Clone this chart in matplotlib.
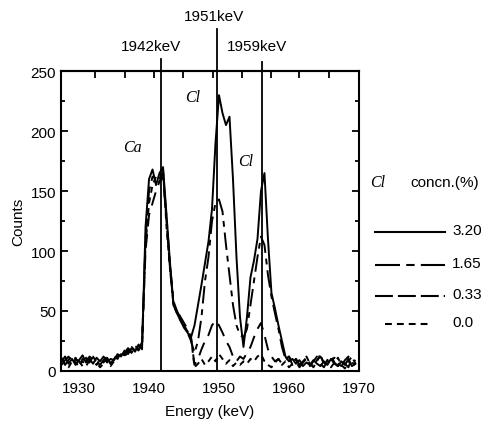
import numpy as np
import matplotlib
matplotlib.use('Agg')
import matplotlib.pyplot as plt
from matplotlib.lines import Line2D

plt.rcParams['font.family'] = ['Liberation Sans', 'DejaVu Sans']

# energy grid (keV), 0.5 keV channels
energy = np.arange(1927.5, 1969.75, 0.5)

# counts for each Cl concentration
c320 = [8, 12, 6, 10, 5, 9, 13, 7, 10, 6,
        11, 8, 12, 7, 10, 9, 14, 12, 17, 14,
        19, 16, 22, 18, 120, 160, 168, 155, 165, 170,
        130, 90, 55, 48, 42, 36, 32, 28, 38, 55,
        72, 90, 108, 135, 190, 230, 215, 205, 212, 160,
        95, 45, 20, 45, 78, 92, 110, 150, 165, 110,
        65, 52, 38, 25, 12, 8, 10, 6, 9, 4,
        7, 5, 9, 6, 4, 8, 5, 10, 6, 4,
        8, 5, 10, 4, 6]
c165 = [11, 5, 9, 12, 7, 4, 10, 8, 12, 9,
        5, 10, 7, 11, 6, 12, 10, 15, 13, 18,
        15, 20, 17, 22, 110, 150, 162, 160, 158, 165,
        128, 88, 58, 50, 44, 38, 32, 25, 15, 25,
        45, 75, 95, 125, 140, 143, 133, 105, 80, 55,
        38, 30, 28, 35, 55, 75, 95, 112, 105, 80,
        62, 48, 35, 20, 10, 12, 7, 10, 5, 8,
        11, 6, 4, 9, 12, 7, 5, 9, 11, 6,
        4, 9, 12, 7, 5]
c033 = [5, 9, 12, 6, 10, 8, 4, 11, 7, 12,
        8, 5, 9, 12, 6, 10, 13, 10, 15, 19,
        16, 21, 18, 24, 100, 130, 140, 150, 158, 162,
        125, 85, 55, 50, 45, 40, 35, 28, 5, 10,
        18, 25, 30, 38, 42, 38, 32, 25, 20, 12,
        8, 12, 10, 15, 20, 28, 35, 40, 30, 18,
        12, 8, 10, 6, 9, 12, 5, 8, 3, 7,
        10, 4, 8, 12, 6, 3, 9, 13, 7, 4,
        10, 6, 3, 11, 8]
c000 = [10, 6, 3, 8, 11, 5, 8, 4, 9, 12,
        7, 3, 6, 10, 4, 8, 11, 14, 12, 16,
        20, 17, 21, 19, 105, 140, 155, 162, 160, 168,
        120, 85, 55, 48, 42, 38, 33, 28, 3, 6,
        10, 5, 8, 12, 8, 14, 10, 6, 9, 4,
        7, 5, 8, 6, 10, 8, 12, 14, 8, 5,
        3, 7, 10, 5, 8, 3, 6, 10, 4, 7,
        12, 6, 3, 8, 14, 5, 9, 3, 7, 11,
        5, 2, 8, 12, 6]

series = [c320, c165, c033, c000]
conc_labels = ['3.20', '1.65', '0.33', '0.0']
dash_styles = ['-', (0, (9, 3, 3, 3)), (0, (7, 4)), (0, (3, 2.5))]
legend_dashes = ['-', (0, (12, 3, 4, 3)), (0, (8.6, 2.4)), (0, (3.3, 2.4))]

# reference lines and their labels
line_pos = [1941.7, 1949.7, 1956.2]
line_top = [260, 285, 258]
line_text = ['1942keV', '1951keV', '1959keV']
text_x = [1940.3, 1949.3, 1955.4]
text_y = [265, 290, 265]

fig = plt.figure(figsize=(4.87, 4.27), dpi=100)
ax = fig.add_axes([0.125, 0.129, 0.612, 0.702])

for vals, ls in zip(series, dash_styles):
    ax.plot(energy, vals, color='black', lw=1.4, linestyle=ls)

for xp, yt in zip(line_pos, line_top):
    ax.plot([xp, xp], [0, yt], color='black', lw=1.3, clip_on=False)
for tx, ty, lab in zip(text_x, text_y, line_text):
    ax.text(tx, ty, lab, ha='center', va='bottom', fontsize=11)

ax.text(1937.6, 183, 'Ca', family='Liberation Serif', style='italic', fontsize=11.5, ha='center')
ax.text(1946.3, 225, 'Cl', family='Liberation Serif', style='italic', fontsize=11.5, ha='center')
ax.text(1953.8, 172, 'Cl', family='Liberation Serif', style='italic', fontsize=11.5, ha='center')

ax.set_xlim(1927.4, 1969.8)
ax.set_ylim(0, 250)
ax.set_xticks([1930, 1940, 1950, 1960, 1970])
ax.set_yticks([0, 50, 100, 150, 200, 250])
ax.set_yticks(np.arange(25, 250, 50), minor=True)
ax.tick_params(axis='both', which='both', direction='in', labelsize=11, width=1.3)
ax.tick_params(axis='y', which='major', length=5, right=True)
ax.tick_params(axis='y', which='minor', length=3, right=True)
ax.tick_params(axis='x', which='major', length=0, pad=7)

top = ax.secondary_xaxis('top')
top.set_xticks([1932.3, 1936.5, 1940.7, 1944.9, 1949.1, 1953.3, 1957.5, 1961.5, 1965.7])
top.tick_params(direction='in', length=5, width=1.3, labeltop=False)

for sp in list(ax.spines.values()) + [top.spines['top']]:
    sp.set_linewidth(1.5)

ax.set_xlabel('Energy (keV)', fontsize=11, labelpad=7)
ax.set_ylabel('Counts', fontsize=11)

# hand-drawn legend to the right of the axes
fig.text(370 / 487, 1 - 183 / 427, 'Cl', family='Liberation Serif', style='italic', fontsize=11.5, va='center')
fig.text(445 / 487, 1 - 183 / 427, 'concn.(%)', fontsize=11, va='center', ha='center')
leg_y = [233, 266, 297, 325]
leg_x0 = [375, 375, 375, 385]
leg_x1 = [445, 445, 445, 432]
for yy, x0, x1, ls, lab in zip(leg_y, leg_x0, leg_x1, legend_dashes, conc_labels):
    fig.add_artist(Line2D([x0 / 487, x1 / 487], [1 - yy / 427, 1 - yy / 427],
                          color='black', lw=1.5, linestyle=ls))
    fig.text(452 / 487, 1 - (yy - 2) / 427, lab, fontsize=11, va='center')

fig.savefig('out.png', dpi=100)
